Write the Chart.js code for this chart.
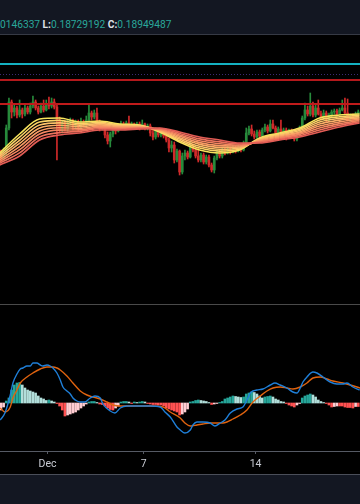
<!DOCTYPE html>
<html>
<head>
<meta charset="utf-8">
<script src="https://cdn.jsdelivr.net/npm/chart.js@4.4.1/dist/chart.umd.min.js"></script>
<style>
html, body { margin: 0; padding: 0; background: #000; width: 360px; height: 504px; overflow: hidden; }
#legend { position: absolute; left: 0; top: 0; width: 360px; height: 34px; background: #131722; border-bottom: 1px solid #363a45; }
#legendText { position: absolute; left: 0; top: 19px; font: 10.2px Roboto, sans-serif; line-height: 11px; color: #2aa89b; white-space: nowrap; }
#legendText b { color: #dde0e6; }
#pricePane { position: absolute; left: 0; top: 35px; }
#sep { position: absolute; left: 0; top: 304px; width: 360px; height: 1px; background: #4a4a4a; }
#macdPane { position: absolute; left: 0; top: 305px; }
#footer { position: absolute; left: 0; top: 474px; width: 360px; height: 30px; background: #131722; border-top: 1px solid #4a4e59; }
</style>
</head>
<body>
<div id="legend"><div id="legendText">0146337 <b>L:</b>0.18729192 <b>C:</b>0.18949487</div></div>
<canvas id="pricePane" width="360" height="268"></canvas>
<div id="sep"></div>
<canvas id="macdPane" width="360" height="169"></canvas>
<div id="footer"></div>
<script>
// 4h candles, hours counted from Nov 28 00:00
const candleStartHour = 2, candleStepHours = 4;
const xMin = 0.6, xMax = 540.6;
const tickHours = [72, 216, 384];
const tickLabels = ['Dec', '7', '14'];

const opens = [
0.1811,0.1803,0.1815,0.1863,0.1915,0.1895,0.1903,0.1889,0.1899,0.1891,
0.1903,0.1895,0.1907,0.1915,0.1903,0.1895,0.1907,0.1899,0.1911,0.1907,
0.1915,0.1905,0.1879,0.1859,0.1871,0.1861,0.1873,0.1877,0.1867,0.1875,
0.1865,0.1875,0.1869,0.1879,0.1893,0.1885,0.1893,0.1871,0.1863,0.1871,
0.1849,0.1837,0.1851,0.1863,0.1857,0.1867,0.1871,0.1867,0.1873,0.1865,
0.1871,0.1867,0.1871,0.1865,0.1871,0.1863,0.1867,0.1853,0.1845,0.1857,
0.1849,0.1855,0.1847,0.1839,0.1823,0.1829,0.1799,0.1817,0.1775,0.1807,
0.1813,0.1805,0.1827,0.1819,0.1807,0.1799,0.1809,0.1795,0.1805,0.1789,
0.1779,0.1803,0.1815,0.1807,0.1819,0.1813,0.1821,0.1815,0.1823,0.1817,
0.1825,0.1819,0.1833,0.1853,0.1861,0.1851,0.1845,0.1855,0.1847,0.1859,
0.1865,0.1857,0.1871,0.1863,0.1853,0.1861,0.1851,0.1859,0.1853,0.1857,
0.1845,0.1841,0.1849,0.1863,0.1883,0.1899,0.1891,0.1907,0.1889,0.1903,
0.1891,0.1883,0.1893,0.1881,0.1889,0.1895,0.1897,0.1891,0.1899,0.1903,
0.1893,0.1879,0.1887,0.1877,0.1891];
const highs = [
0.1819,0.1823,0.1869,0.1923,0.1919,0.1911,0.1907,0.1919,0.1903,0.1911,
0.1907,0.1913,0.1927,0.1919,0.1907,0.1913,0.1919,0.1919,0.1925,0.1923,
0.1921,0.1911,0.1885,0.1877,0.1877,0.1879,0.1883,0.1881,0.1879,0.1879,
0.1883,0.1879,0.1887,0.1909,0.1897,0.1899,0.1903,0.1879,0.1875,0.1875,
0.1855,0.1855,0.1871,0.1867,0.1871,0.1877,0.1875,0.1877,0.1887,0.1875,
0.1873,0.1875,0.1875,0.1879,0.1873,0.1871,0.1871,0.1859,0.1863,0.1861,
0.1861,0.1859,0.1853,0.1843,0.1837,0.1835,0.1821,0.1819,0.1813,0.1819,
0.1817,0.1843,0.1831,0.1823,0.1823,0.1813,0.1813,0.1809,0.1809,0.1793,
0.1807,0.1819,0.1819,0.1823,0.1823,0.1827,0.1825,0.1829,0.1827,0.1829,
0.1829,0.1837,0.1863,0.1867,0.1869,0.1857,0.1859,0.1859,0.1863,0.1871,
0.1869,0.1879,0.1879,0.1867,0.1865,0.1879,0.1863,0.1863,0.1861,0.1861,
0.1851,0.1853,0.1867,0.1887,0.1913,0.1907,0.1933,0.1915,0.1909,0.1919,
0.1897,0.1899,0.1897,0.1893,0.1899,0.1901,0.1901,0.1903,0.1919,0.1923,
0.1921,0.1891,0.1891,0.1895,0.1899];
const lows = [
0.1795,0.1799,0.1809,0.1859,0.1883,0.1887,0.1883,0.1885,0.1883,0.1887,
0.1891,0.1891,0.1903,0.1899,0.1891,0.1893,0.1895,0.1897,0.1901,0.1903,
0.1901,0.1799,0.1853,0.1853,0.1857,0.1855,0.1869,0.1859,0.1863,0.1857,
0.1861,0.1865,0.1865,0.1875,0.1879,0.1881,0.1865,0.1857,0.1859,0.1843,
0.1831,0.1825,0.1845,0.1851,0.1855,0.1863,0.1863,0.1865,0.1861,0.1861,
0.1863,0.1861,0.1859,0.1863,0.1859,0.1859,0.1847,0.1839,0.1841,0.1845,
0.1845,0.1843,0.1835,0.1815,0.1815,0.1793,0.1795,0.1769,0.1771,0.1799,
0.1801,0.1803,0.1815,0.1803,0.1795,0.1795,0.1791,0.1791,0.1785,0.1775,
0.1773,0.1799,0.1803,0.1803,0.1809,0.1811,0.1811,0.1813,0.1813,0.1815,
0.1815,0.1817,0.1829,0.1849,0.1847,0.1841,0.1841,0.1843,0.1845,0.1855,
0.1853,0.1855,0.1861,0.1849,0.1849,0.1847,0.1845,0.1839,0.1849,0.1843,
0.1837,0.1837,0.1845,0.1859,0.1879,0.1887,0.1887,0.1885,0.1885,0.1889,
0.1879,0.1881,0.1875,0.1877,0.1885,0.1891,0.1887,0.1889,0.1897,0.1891,
0.1877,0.1875,0.1871,0.1873,0.1873];
const closes = [
0.1803,0.1815,0.1863,0.1915,0.1895,0.1903,0.1889,0.1899,0.1891,0.1903,
0.1895,0.1907,0.1915,0.1903,0.1895,0.1907,0.1899,0.1911,0.1907,0.1915,
0.1905,0.1879,0.1859,0.1871,0.1861,0.1873,0.1877,0.1867,0.1875,0.1865,
0.1875,0.1869,0.1879,0.1893,0.1885,0.1893,0.1871,0.1863,0.1871,0.1849,
0.1837,0.1851,0.1863,0.1857,0.1867,0.1871,0.1867,0.1873,0.1865,0.1871,
0.1867,0.1871,0.1865,0.1871,0.1863,0.1867,0.1853,0.1845,0.1857,0.1849,
0.1855,0.1847,0.1839,0.1823,0.1829,0.1799,0.1817,0.1775,0.1807,0.1813,
0.1805,0.1827,0.1819,0.1807,0.1799,0.1809,0.1795,0.1805,0.1789,0.1779,
0.1803,0.1815,0.1807,0.1819,0.1813,0.1821,0.1815,0.1823,0.1817,0.1825,
0.1819,0.1833,0.1853,0.1861,0.1851,0.1845,0.1855,0.1847,0.1859,0.1865,
0.1857,0.1871,0.1863,0.1853,0.1861,0.1851,0.1859,0.1853,0.1857,0.1845,
0.1841,0.1849,0.1863,0.1883,0.1899,0.1891,0.1907,0.1889,0.1903,0.1891,
0.1883,0.1893,0.1881,0.1889,0.1895,0.1897,0.1891,0.1899,0.1903,0.1893,
0.1879,0.1887,0.1877,0.1891,0.1895];

// EMA ribbon, fast (ema1) to slow (ema8), read every 30h
const ribbonHours = [0,30,60,90,120,150,180,210,240,270,300,330,360,390,420,450,480,510,540];
const ema1 = [0.1813,0.1851,0.1881,0.1883,0.1875,0.1877,0.1871,0.1869,0.1855,0.1835,0.1819,0.1813,0.1819,0.1843,0.1853,0.1863,0.1883,0.1889,0.1891];
const ema2 = [0.18096,0.18448,0.1875,0.18782,0.18718,0.18744,0.18692,0.18678,0.18562,0.18378,0.18228,0.18168,0.1821,0.18416,0.1851,0.18604,0.1879,0.18856,0.18884];
const ema3 = [0.18062,0.18384,0.1869,0.18732,0.18688,0.18718,0.18676,0.18668,0.18572,0.18408,0.18264,0.18204,0.1823,0.18402,0.1849,0.18578,0.1875,0.18822,0.18858];
const ema4 = [0.18028,0.18322,0.1863,0.18684,0.18656,0.18692,0.18658,0.18656,0.18584,0.18436,0.18302,0.18242,0.1825,0.18388,0.1847,0.18552,0.1871,0.18788,0.18832];
const ema5 = [0.17992,0.18258,0.1857,0.18636,0.18624,0.18668,0.18642,0.18644,0.18596,0.18464,0.18338,0.18278,0.1827,0.18372,0.1845,0.18528,0.1867,0.18752,0.18808];
const ema6 = [0.17958,0.18196,0.1851,0.18588,0.18592,0.18642,0.18624,0.18632,0.18608,0.18492,0.18376,0.18316,0.1829,0.18358,0.1843,0.18502,0.1863,0.18718,0.18782];
const ema7 = [0.17924,0.18132,0.1845,0.18538,0.18562,0.18616,0.18608,0.18622,0.18618,0.18522,0.18412,0.18352,0.1831,0.18344,0.1841,0.18476,0.1859,0.18684,0.18756];
const ema8 = [0.1789,0.1807,0.1839,0.1849,0.1853,0.1859,0.1859,0.1861,0.1863,0.1855,0.1845,0.1839,0.1833,0.1833,0.1839,0.1845,0.1855,0.1865,0.1873];
const ribbonColors = ['#f8e45c','#fbd467','#fcc26a','#fbae68','#f89a65','#f38661','#ec715c','#e25c55'];

// horizontal levels
const levelPrices = [0.1991, 0.1970, 0.1959, 0.1911];
const levelColors = ['#14b1c2', '#3b2b72', '#b3191c', '#c01b1b'];

// MACD panel
const macdHours = [1,8,16,20,26,31,35,41,46,50,56,61,65,71,76,80,86,91,95,101,106,110,116,121,128,136,143,151,155,166,173,181,191,211,226,241,248,256,266,271,278,286,290,296,305,316,323,331,338,346,356,365,371,376,380,386,395,406,413,421,431,440,446,451,455,461,470,476,485,496,506,515,521,530,540];
const macdValues = [-0.00034,-0.00020,0.00016,0.00040,0.00058,0.00068,0.00070,0.00074,0.00074,0.00080,
0.00080,0.00076,0.00074,0.00076,0.00074,0.00070,0.00060,0.00046,0.00032,0.00024,
0.00018,0.00010,0.00004,0.00002,0.00002,0.00010,0.00014,0.00010,-0.00002,-0.00016,
-0.00020,-0.00010,-0.00006,-0.00006,-0.00006,-0.00008,-0.00018,-0.00028,-0.00048,-0.00054,
-0.00060,-0.00054,-0.00044,-0.00038,-0.00038,-0.00040,-0.00046,-0.00040,-0.00034,-0.00020,
-0.00012,-0.00008,0.00006,0.00020,0.00024,0.00026,0.00028,0.00036,0.00040,0.00036,
0.00030,0.00022,0.00020,0.00030,0.00042,0.00052,0.00062,0.00060,0.00052,0.00042,
0.00038,0.00038,0.00040,0.00032,0.00026];
const signalHours = [1,8,16,20,26,31,41,50,61,71,80,86,91,101,110,121,131,140,151,161,170,181,200,226,245,256,271,278,286,296,305,316,326,335,341,350,361,371,380,391,401,410,421,431,440,451,461,470,481,491,500,515,526,541];
const signalValues = [-0.00010,-0.00018,-0.00008,0.00010,0.00026,0.00040,0.00052,0.00060,0.00068,0.00072,
0.00072,0.00070,0.00066,0.00054,0.00040,0.00024,0.00016,0.00012,0.00008,0.00002,
-0.00004,-0.00006,-0.00006,-0.00006,-0.00008,-0.00018,-0.00030,-0.00040,-0.00046,-0.00044,
-0.00042,-0.00040,-0.00040,-0.00040,-0.00038,-0.00032,-0.00024,-0.00014,0.00002,0.00014,
0.00024,0.00030,0.00032,0.00030,0.00028,0.00032,0.00040,0.00050,0.00052,0.00048,
0.00044,0.00040,0.00036,0.00030];
const histValues = [
-0.00014,-0.00008,0.00004,0.00010,0.00026,0.00036,0.00040,0.00041,0.00036,0.00030,
0.00026,0.00024,0.00022,0.00020,0.00014,0.00010,0.00008,0.00005,0.00006,0.00004,
0.00002,-0.00001,-0.00006,-0.00014,-0.00026,-0.00024,-0.00022,-0.00020,-0.00018,-0.00014,
-0.00010,-0.00006,-0.00002,0.00002,0.00003,0.00003,0.00001,-0.00002,-0.00003,-0.00006,
-0.00010,-0.00013,-0.00014,-0.00010,-0.00006,0.00002,0.00003,0.00003,0.00002,-0.00001,
0.00002,0.00001,0.00002,0.00003,0.00002,-0.00001,-0.00002,-0.00003,-0.00003,-0.00004,
-0.00004,-0.00006,-0.00010,-0.00012,-0.00014,-0.00016,-0.00018,-0.00024,-0.00022,-0.00018,
-0.00012,0.00002,0.00003,0.00005,0.00006,0.00005,0.00004,0.00003,0.00001,-0.00003,
-0.00002,-0.00001,0.00001,0.00003,0.00008,0.00010,0.00012,0.00014,0.00013,0.00012,
0.00011,0.00012,0.00018,0.00020,0.00022,0.00021,0.00018,0.00014,0.00010,0.00012,
0.00013,0.00014,0.00012,0.00008,0.00006,0.00003,0.00002,-0.00001,-0.00004,-0.00006,
-0.00008,-0.00004,-0.00001,0.00010,0.00014,0.00016,0.00018,0.00016,0.00012,0.00006,
0.00003,0.00001,-0.00001,-0.00004,-0.00008,-0.00007,-0.00006,-0.00006,-0.00006,-0.00008,
-0.00009,-0.00009,-0.00010,-0.00007,-0.00007];

const hours = opens.map((_, i) => candleStartHour + i * candleStepHours);
const candleColors = closes.map((c, i) => c >= opens[i] ? '#278a3b' : '#d02a2a');
const histColors = histValues.map((v, i) => {
    var prev = i > 0 ? histValues[i - 1] : v;
    if (v >= 0) return v >= prev ? '#26a69a' : '#b2dfdb';
    return v <= prev && i > 0 ? '#ff5252' : '#ffcdd2';
});

function xy(xs, ys) { return xs.map((x, i) => ({ x: x, y: ys[i] })); }

const baseOptions = {
    responsive: false,
    animation: false,
    events: [],
    layout: { padding: 0 },
    plugins: { legend: { display: false }, tooltip: { enabled: false } }
};

// ---------- price pane
var priceSets = [];
[ema1, ema2, ema3, ema4, ema5, ema6, ema7, ema8].forEach((line, k) => {
    priceSets.push({ type: 'line', data: xy(ribbonHours, line), borderColor: ribbonColors[k], borderWidth: 1.6,
        pointRadius: 0, cubicInterpolationMode: 'monotone', order: 1 + (7 - k) * 0.01 });
});
levelPrices.forEach((p, k) => {
    priceSets.push({ type: 'line', data: [{ x: xMin, y: p }, { x: xMax, y: p }], borderColor: levelColors[k],
        borderWidth: k == 1 ? 1 : 1.8, borderDash: k == 1 ? [1, 2] : [], pointRadius: 0, order: 0 });
});
priceSets.push({ type: 'bar', data: hours.map((h, i) => ({ x: h, y: [lows[i], highs[i]] })),
    backgroundColor: candleColors, barThickness: 1, grouped: false, order: 3 });
priceSets.push({ type: 'bar', data: hours.map((h, i) => ({ x: h, y: [opens[i], closes[i]] })),
    backgroundColor: candleColors, barThickness: 2, grouped: false, order: 2 });

new Chart(document.getElementById('pricePane'), {
    type: 'bar',
    data: { datasets: priceSets },
    options: Object.assign({}, baseOptions, {
        scales: {
            x: { type: 'linear', min: xMin, max: xMax, offset: false, display: false },
            y: { min: 0.1513, max: 0.2049, display: false }
        }
    })
});

// ---------- MACD pane
new Chart(document.getElementById('macdPane'), {
    type: 'bar',
    data: {
        datasets: [
            { type: 'line', data: xy(macdHours, macdValues), borderColor: '#1f7fd8', borderWidth: 1.4,
                pointRadius: 0, cubicInterpolationMode: 'monotone', order: 0 },
            { type: 'line', data: xy(signalHours, signalValues), borderColor: '#e0630f', borderWidth: 1.4,
                pointRadius: 0, cubicInterpolationMode: 'monotone', order: 1 },
            { type: 'bar', data: xy(hours, histValues), backgroundColor: histColors, barThickness: 2,
                grouped: false, order: 2 }
        ]
    },
    options: Object.assign({}, baseOptions, {
        scales: {
            x: {
                type: 'linear', min: xMin, max: xMax, offset: false,
                afterBuildTicks: s => { s.ticks = tickHours.map(v => ({ value: v })); },
                afterFit: s => { s.height = 23; },
                ticks: { callback: v => tickLabels[tickHours.indexOf(v)], color: '#c9ccd4', autoSkip: false, maxRotation: 0,
                    padding: 4, font: { family: 'Roboto', size: 10.5 } },
                grid: { drawOnChartArea: false, drawTicks: true, tickLength: 3, color: '#565a64', offset: false },
                border: { display: true, color: '#565a64' }
            },
            y: { min: -0.00096, max: 0.00196, display: false }
        }
    })
});
</script>
</body>
</html>
